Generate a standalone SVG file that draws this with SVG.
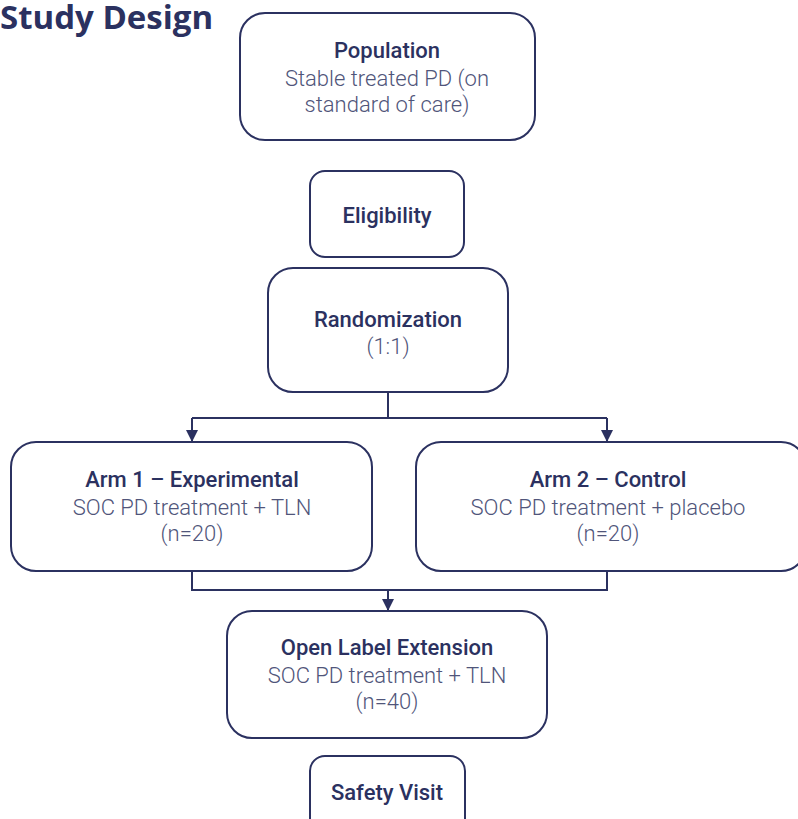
<svg xmlns="http://www.w3.org/2000/svg" width="798" height="819" viewBox="0 0 798 819">
<style>
.box{fill:#fff;stroke:#2b3160;stroke-width:2}
.t{font-family:Roboto,"Liberation Sans",sans-serif;font-size:22px;text-anchor:middle;fill:#2b3160;font-weight:500}
.s{font-family:Roboto,"Liberation Sans",sans-serif;font-size:22px;text-anchor:middle;fill:#50557a;font-weight:300}
.c{fill:none;stroke:#2b3160;stroke-width:2}
</style>
<defs>
<marker id="ah" viewBox="0 0 12 12" refX="12" refY="6" markerWidth="12" markerHeight="12" markerUnits="userSpaceOnUse" orient="auto">
<path d="M0,0 L12,6 L0,12 Z" fill="#2b3160"/>
</marker>
</defs>
<text x="0" y="29" font-family="'Open Sans',sans-serif" font-weight="700" font-size="33" fill="#2b3160">Study Design</text>
<g id="connectors">
<path class="c" d="M388,392 V418"/>
<path class="c" d="M192,418 H607"/>
<path class="c" d="M192,418 V442" marker-end="url(#ah)"/>
<path class="c" d="M607,418 V442" marker-end="url(#ah)"/>
<path class="c" d="M192,571 V590 H607 V571"/>
<path class="c" d="M388,590 V611" marker-end="url(#ah)"/>
</g>
<g id="population">
<rect class="box" x="240" y="13" width="295" height="127" rx="25"/>
<text class="t" x="387" y="58">Population</text>
<text class="s" x="387" y="86">Stable treated PD (on</text>
<text class="s" x="387" y="112">standard of care)</text>
</g>
<g id="eligibility">
<rect class="box" x="310" y="171" width="154" height="86" rx="15"/>
<text class="t" x="387" y="223">Eligibility</text>
</g>
<g id="randomization">
<rect class="box" x="268" y="268" width="240" height="124" rx="25"/>
<text class="t" x="388" y="327">Randomization</text>
<text class="s" x="388" y="354">(1:1)</text>
</g>
<g id="arm1">
<rect class="box" x="11" y="442" width="361" height="129" rx="25"/>
<text class="t" x="192" y="487">Arm 1 – Experimental</text>
<text class="s" x="192" y="515">SOC PD treatment + TLN</text>
<text class="s" x="192" y="541">(n=20)</text>
</g>
<g id="arm2">
<rect class="box" x="416" y="442" width="390" height="129" rx="25"/>
<text class="t" x="608" y="487">Arm 2 – Control</text>
<text class="s" x="608" y="515">SOC PD treatment + placebo</text>
<text class="s" x="608" y="541">(n=20)</text>
</g>
<g id="ole">
<rect class="box" x="227" y="611" width="320" height="127" rx="25"/>
<text class="t" x="387" y="655">Open Label Extension</text>
<text class="s" x="387" y="683">SOC PD treatment + TLN</text>
<text class="s" x="387" y="709">(n=40)</text>
</g>
<g id="safety">
<rect class="box" x="310" y="756" width="155" height="86" rx="15"/>
<text class="t" x="387" y="800">Safety Visit</text>
</g>
</svg>
